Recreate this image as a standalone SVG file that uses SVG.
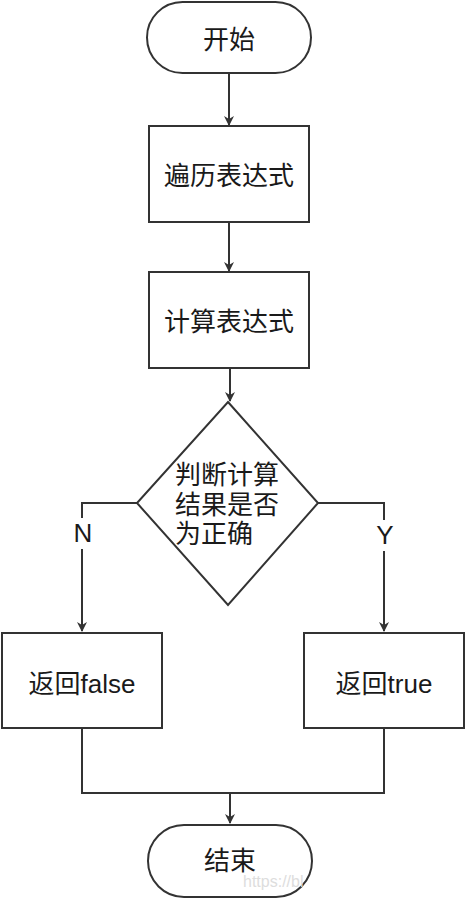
<svg xmlns="http://www.w3.org/2000/svg" width="466" height="899" viewBox="0 0 466 899">
<style>
.s{fill:#fff;stroke:#333;stroke-width:2}
.c{fill:none;stroke:#333;stroke-width:2}
.t{font-family:"Liberation Sans","Noto Sans CJK SC",sans-serif;font-size:26px;fill:#1a1a1a}
.m{text-anchor:middle;dominant-baseline:central}
</style>
<defs>
<marker id="ah" markerWidth="10" markerHeight="10" refX="9" refY="5" orient="auto" markerUnits="userSpaceOnUse">
<path d="M0,0 L10,5 L0,10 L3,5 z" fill="#333"/>
</marker>
</defs>
<rect width="466" height="899" fill="#fff"/>
<g id="connectors">
<path class="c" d="M229,74 V125" marker-end="url(#ah)"/>
<path class="c" d="M229,222 V271" marker-end="url(#ah)"/>
<path class="c" d="M230,368 V401" marker-end="url(#ah)"/>
<path class="c" d="M137,503 H82 V631" marker-end="url(#ah)"/>
<path class="c" d="M318,503 H384 V631" marker-end="url(#ah)"/>
<path class="c" d="M82,728 V793 H384 V728"/>
<path class="c" d="M230,793 V823" marker-end="url(#ah)"/>
<rect x="71" y="518" width="22" height="31" fill="#fff"/>
<text class="t m" x="83" y="533">N</text>
<rect x="373" y="520" width="22" height="31" fill="#fff"/>
<text class="t m" x="385" y="535">Y</text>
</g>
<g id="start">
<rect class="s" x="147" y="2" width="164" height="71" rx="35.5"/>
<text class="t m" x="229" y="40">开始</text>
</g>
<g id="traverse">
<rect class="s" x="149" y="126" width="160" height="96"/>
<text class="t m" x="229" y="176">遍历表达式</text>
</g>
<g id="compute">
<rect class="s" x="149" y="272" width="160" height="96"/>
<text class="t m" x="229" y="322">计算表达式</text>
</g>
<g id="decision">
<path class="s" d="M228,402 L318,503 L228,605 L137,503 Z"/>
<text class="t" x="175" y="475" dominant-baseline="central">判断计算</text>
<text class="t" x="175" y="505" dominant-baseline="central">结果是否</text>
<text class="t" x="175" y="534" dominant-baseline="central">为正确</text>
</g>
<g id="false">
<rect class="s" x="2" y="633" width="160" height="95"/>
<text class="t m" x="82" y="684">返回false</text>
</g>
<g id="true">
<rect class="s" x="304" y="633" width="160" height="95"/>
<text class="t m" x="384" y="684">返回true</text>
</g>
<g id="end">
<rect class="s" x="148" y="825" width="164" height="72" rx="36"/>
<text class="t m" x="230" y="861">结束</text>
<text x="243" y="887" font-family="Liberation Sans,sans-serif" font-size="16" fill="#ddd">https://bl</text>
</g>
</svg>
